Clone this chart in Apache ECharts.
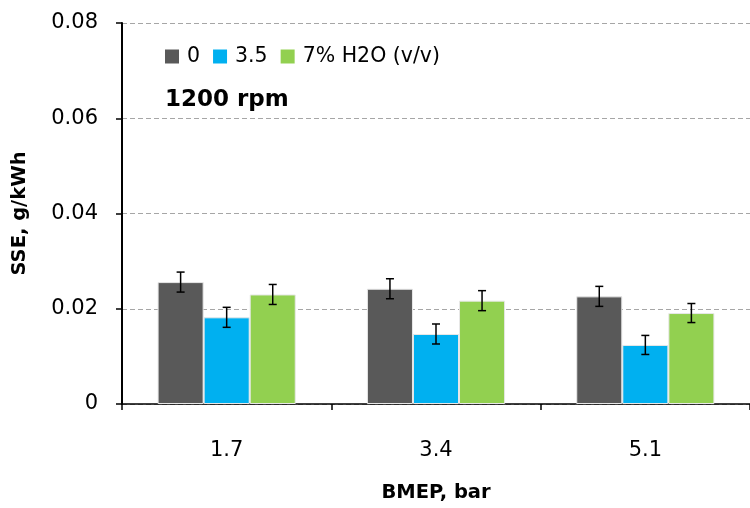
<!DOCTYPE html>
<html>
<head>
<meta charset="utf-8">
<script src="https://cdn.jsdelivr.net/npm/echarts@6/dist/echarts.min.js"></script>
<style>html,body{margin:0;padding:0;background:#fff}#c{width:750px;height:508px}</style>
</head>
<body>
<div id="c"></div>
<script>
var categories = ['1.7', '3.4', '5.1'];
var seriesNames = ['0', '3.5', '7% H2O (v/v)'];
var values0 = [0.0256, 0.0242, 0.0226];
var values35 = [0.0182, 0.0147, 0.0124];
var values7 = [0.0230, 0.0217, 0.0191];
var err0 = [0.0021, 0.0021, 0.0021];
var err35 = [0.0021, 0.0021, 0.0020];
var err7 = [0.0021, 0.0021, 0.0020];
var yTicks = ['0', '0.02', '0.04', '0.06', '0.08'];
var colors = ['#595959', '#00b0f0', '#92d050'];

var FONT = 'DejaVu Sans';
var allValues = [values0, values35, values7];
var allErr = [err0, err35, err7];
var catGap = 0.34;

function errSeries(k) {
  var data = categories.map(function (c, i) {
    return [i, allValues[k][i] - allErr[k][i], allValues[k][i] + allErr[k][i]];
  });
  return {
    type: 'custom',
    name: seriesNames[k] + ' err',
    z: 10,
    silent: true,
    data: data,
    encode: { x: 0, y: [1, 2] },
    renderItem: function (params, api) {
      var ci = api.value(0);
      var lo = api.coord([ci, api.value(1)]);
      var hi = api.coord([ci, api.value(2)]);
      var cw = api.size([1, 0])[0];
      var bw = cw * (1 - catGap) / 3;
      var x = lo[0] + (k - 1) * bw;
      var cap = 4;
      var style = { stroke: '#000', lineWidth: 1.5 };
      return {
        type: 'group',
        children: [
          { type: 'line', shape: { x1: x, y1: lo[1], x2: x, y2: hi[1] }, style: style },
          { type: 'line', shape: { x1: x - cap, y1: lo[1], x2: x + cap, y2: lo[1] }, style: style },
          { type: 'line', shape: { x1: x - cap, y1: hi[1], x2: x + cap, y2: hi[1] }, style: style }
        ]
      };
    }
  };
}

var barSeries = [0, 1, 2].map(function (k) {
  return {
    type: 'bar',
    name: seriesNames[k],
    data: allValues[k],
    barGap: '0%',
    barCategoryGap: (catGap * 100) + '%',
    itemStyle: { color: colors[k], borderColor: '#e8e8e8', borderWidth: 1 }
  };
});

var chart = echarts.init(document.getElementById('c'), null, { renderer: 'canvas' });
chart.setOption({
  animation: false,
  color: colors,
  title: {
    text: '1200 rpm',
    left: 160,
    top: 84,
    textStyle: { fontFamily: FONT, fontSize: 23, fontWeight: 'bold', color: '#000' }
  },
  legend: {
    data: seriesNames,
    left: 160,
    top: 41,
    icon: 'rect',
    itemWidth: 14,
    itemHeight: 14,
    itemGap: 13,
    itemStyle: { borderWidth: 0 },
    textStyle: { fontFamily: FONT, fontSize: 20.5, color: '#000', padding: [0, 0, 0, 3] }
  },
  grid: { left: 122, width: 633, top: 23, bottom: 102, containLabel: false },
  xAxis: {
    type: 'category',
    data: categories,
    name: 'BMEP, bar',
    nameLocation: 'middle',
    nameGap: 79,
    nameTextStyle: { fontFamily: FONT, fontSize: 19.5, fontWeight: 'bold', color: '#000' },
    axisLine: { lineStyle: { color: '#000', width: 1.5 } },
    axisTick: { show: true, inside: false, length: 6, lineStyle: { color: '#000', width: 1.5 } },
    axisLabel: { fontFamily: FONT, fontSize: 21, color: '#000', margin: 36 }
  },
  yAxis: {
    type: 'value',
    min: 0,
    max: 0.08,
    interval: 0.02,
    name: 'SSE, g/kWh',
    nameLocation: 'middle',
    nameRotate: 90,
    nameGap: 92,
    nameTextStyle: { fontFamily: FONT, fontSize: 19.5, fontWeight: 'bold', color: '#000' },
    axisLine: { show: true, lineStyle: { color: '#000', width: 2 } },
    axisTick: { show: true, inside: false, length: 6, lineStyle: { color: '#000', width: 1.5 } },
    axisLabel: {
      fontFamily: FONT, fontSize: 21, color: '#000', margin: 24,
      formatter: function (v) { return yTicks[Math.round(v / 0.02)]; }
    },
    splitLine: { show: true, lineStyle: { color: '#a6a6a6', type: [5, 3], width: 1 } }
  },
  series: barSeries.concat([errSeries(0), errSeries(1), errSeries(2)])
});
</script>
</body>
</html>
